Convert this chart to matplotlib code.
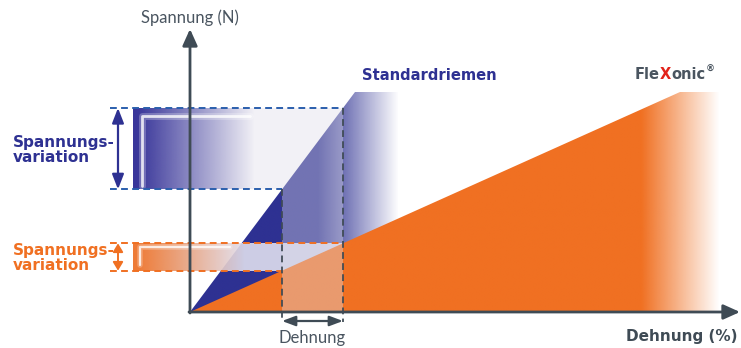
import numpy as np
import matplotlib
matplotlib.use("Agg")
import matplotlib.pyplot as plt
from matplotlib.patches import Polygon, Rectangle

plt.rcParams["font.family"] = ["Lato", "DejaVu Sans"]
BOLD = ["DejaVu Sans"]

# schematic units: origin at the axis corner, 1 unit ~ 1 px
strain_std = [0, 165]          # Standardriemen line
stress_std = [0, 220]
strain_flex = [0, 490]         # FleXonic line
stress_flex = [0, 220]
strain_window = [92, 153]      # working elongation range
std_fade = [128, 208]
flex_fade = [452, 530]
box_left = -57
box_fade_blue = 65
box_fade_orange = 55
brand_parts = [("Fle", "#4a5560"), ("X", "#e2231a"), ("onic", "#4a5560")]

stress_std_win = np.interp(strain_window, strain_std, stress_std)
stress_flex_win = np.interp(strain_window, strain_flex, stress_flex)

BLUE = "#2e3192"
ORANGE = "#f07022"
DASH_BLUE = "#2b5fad"
GRAY = "#3f4b55"
TXT_GRAY = "#4a5560"


def grad_fill(ax, verts, color, fade0, fade1, z, alpha0=1.0):
    xs = [v[0] for v in verts]
    ys = [v[1] for v in verts]
    poly = Polygon(verts, closed=True, facecolor="none", edgecolor="none")
    ax.add_patch(poly)
    n = 500
    gx = np.linspace(min(xs), max(xs), n)
    a = np.clip((fade1 - gx) / (fade1 - fade0), 0, 1) * alpha0
    img = np.zeros((1, n, 4))
    img[..., :3] = matplotlib.colors.to_rgb(color)
    img[..., 3] = a
    im = ax.imshow(img, extent=[min(xs), max(xs), min(ys), max(ys)],
                   aspect="auto", zorder=z, interpolation="bilinear")
    im.set_clip_path(poly)


fig = plt.figure(figsize=(7.41, 3.48), dpi=100)
ax = fig.add_axes([0, 0, 1, 1])
ax.set_axis_off()
ax.set_xlim(-190, 551)
ax.set_ylim(-36, 312)

lo, hi = stress_flex_win
lo_b, hi_b = stress_std_win
w0, w1 = strain_window

# Standardriemen area
top_std = stress_std[-1]
grad_fill(ax, [(0, 0), (strain_std[-1], top_std), (std_fade[1], top_std), (std_fade[1], 0)],
          BLUE, std_fade[0], std_fade[1], z=1)

# pale band behind the orange stress range
ax.add_patch(Rectangle((box_left, lo), w1 - box_left, hi - lo,
                       facecolor="#e0dfef", alpha=0.9, edgecolor="none", zorder=2))

# FleXonic area
top_flex = stress_flex[-1]
grad_fill(ax, [(0, 0), (strain_flex[-1], top_flex), (flex_fade[1], top_flex), (flex_fade[1], 0)],
          ORANGE, flex_fade[0], flex_fade[1], z=3)

# light overlay: blue stress band plus vertical elongation band (one shape)
ax.add_patch(Polygon([(box_left, hi_b), (w1, hi_b), (w1, 0), (w0, 0), (w0, lo_b), (box_left, lo_b)],
                     closed=True, facecolor="#dedde8", alpha=0.39, edgecolor="none", zorder=4))

# gradient boxes on the left
grad_fill(ax, [(box_left, lo_b), (box_fade_blue, lo_b), (box_fade_blue, hi_b), (box_left, hi_b)],
          "#39369a", box_left + 5, box_fade_blue, z=5)
grad_fill(ax, [(box_left, lo), (box_fade_orange, lo), (box_fade_orange, hi), (box_left, hi)],
          ORANGE, box_left + 5, box_fade_orange, z=5, alpha0=0.9)

# glare lines
for lw, al in [(5, 0.25), (2, 0.8)]:
    ax.plot([box_left + 9, box_left + 9, box_fade_blue - 5], [lo_b + 3, hi_b - 8, hi_b - 8],
            color="white", lw=lw, alpha=al, zorder=6, solid_capstyle="round")
    ax.plot([box_left + 7, box_left + 7, box_fade_orange - 15], [lo + 6, hi - 4, hi - 4],
            color="white", lw=lw * 0.8, alpha=al, zorder=6, solid_capstyle="round")

# dashed guides
dash = (0, (3.5, 2.2))
for y, x_end in zip(stress_std_win, strain_window):
    ax.plot([-80, x_end], [y, y], color=DASH_BLUE, lw=1.4, ls=dash, zorder=7)
for y, x_end in zip(stress_flex_win, strain_window):
    ax.plot([-80, x_end], [y, y], color=ORANGE, lw=1.4, ls=dash, zorder=7)
for x, y in zip(strain_window, stress_std_win):
    ax.plot([x, x], [y, -10], color=GRAY, lw=1.4, ls=dash, zorder=7, alpha=0.9)

# stress variation arrows
ax.annotate("", xy=(-72, hi_b), xytext=(-72, lo_b),
            arrowprops=dict(arrowstyle="<|-|>,head_length=0.9,head_width=0.35", color=BLUE,
                            lw=1.6, shrinkA=0, shrinkB=0), zorder=8)
ax.annotate("", xy=(-72, hi), xytext=(-72, lo),
            arrowprops=dict(arrowstyle="<|-|>,head_length=0.5,head_width=0.3", color=ORANGE,
                            lw=1.4, shrinkA=0, shrinkB=0), zorder=8)

# elongation arrow
ax.annotate("", xy=(w1, -9), xytext=(w0, -9),
            arrowprops=dict(arrowstyle="<|-|>,head_length=0.8,head_width=0.3", color=GRAY,
                            lw=1.6, shrinkA=0, shrinkB=0), zorder=8)

# axes
ax.annotate("", xy=(0, 283), xytext=(0, -1),
            arrowprops=dict(arrowstyle="-|>,head_length=1.0,head_width=0.45", color=GRAY,
                            lw=2, shrinkA=0, shrinkB=0), zorder=9)
ax.annotate("", xy=(550, 0), xytext=(-1, 0),
            arrowprops=dict(arrowstyle="-|>,head_length=1.0,head_width=0.45", color=GRAY,
                            lw=2, shrinkA=0, shrinkB=0), zorder=9)

# texts
ax.text(0, 294, "Spannung (N)", color=TXT_GRAY, fontsize=12, ha="center", va="center")
ax.text(548, -24, "Dehnung (%)", color=GRAY, fontsize=11, family=BOLD, fontweight="bold",
        ha="right", va="center")
ax.text(np.mean(strain_window), -26, "Dehnung", color=TXT_GRAY, fontsize=12,
        ha="center", va="center")
ax.text(172, 237, "Standardriemen", color=BLUE, fontsize=10.6, family=BOLD, fontweight="bold",
        ha="left", va="center")

# FleXonic brand: pieces placed one after another
renderer = fig.canvas.get_renderer()
x_pos = 445
for part, col in brand_parts:
    t = ax.text(x_pos, 233, part, color=col, fontsize=10.5, family=BOLD,
                fontweight="bold", ha="left", va="baseline")
    bb = t.get_window_extent(renderer).transformed(ax.transData.inverted())
    x_pos = bb.x1
ax.text(x_pos + 0.5, 240, "®", color=TXT_GRAY, fontsize=6.5, family=BOLD,
        fontweight="bold", ha="left", va="baseline")

ax.text(-177, 162, "Spannungs-\nvariation", color=BLUE, fontsize=11, family=BOLD,
        fontweight="bold", ha="left", va="center", linespacing=1.0)
ax.text(-177, 54, "Spannungs-\nvariation", color=ORANGE, fontsize=11, family=BOLD,
        fontweight="bold", ha="left", va="center", linespacing=1.0)

fig.savefig("out.png", dpi=100, facecolor="white")
